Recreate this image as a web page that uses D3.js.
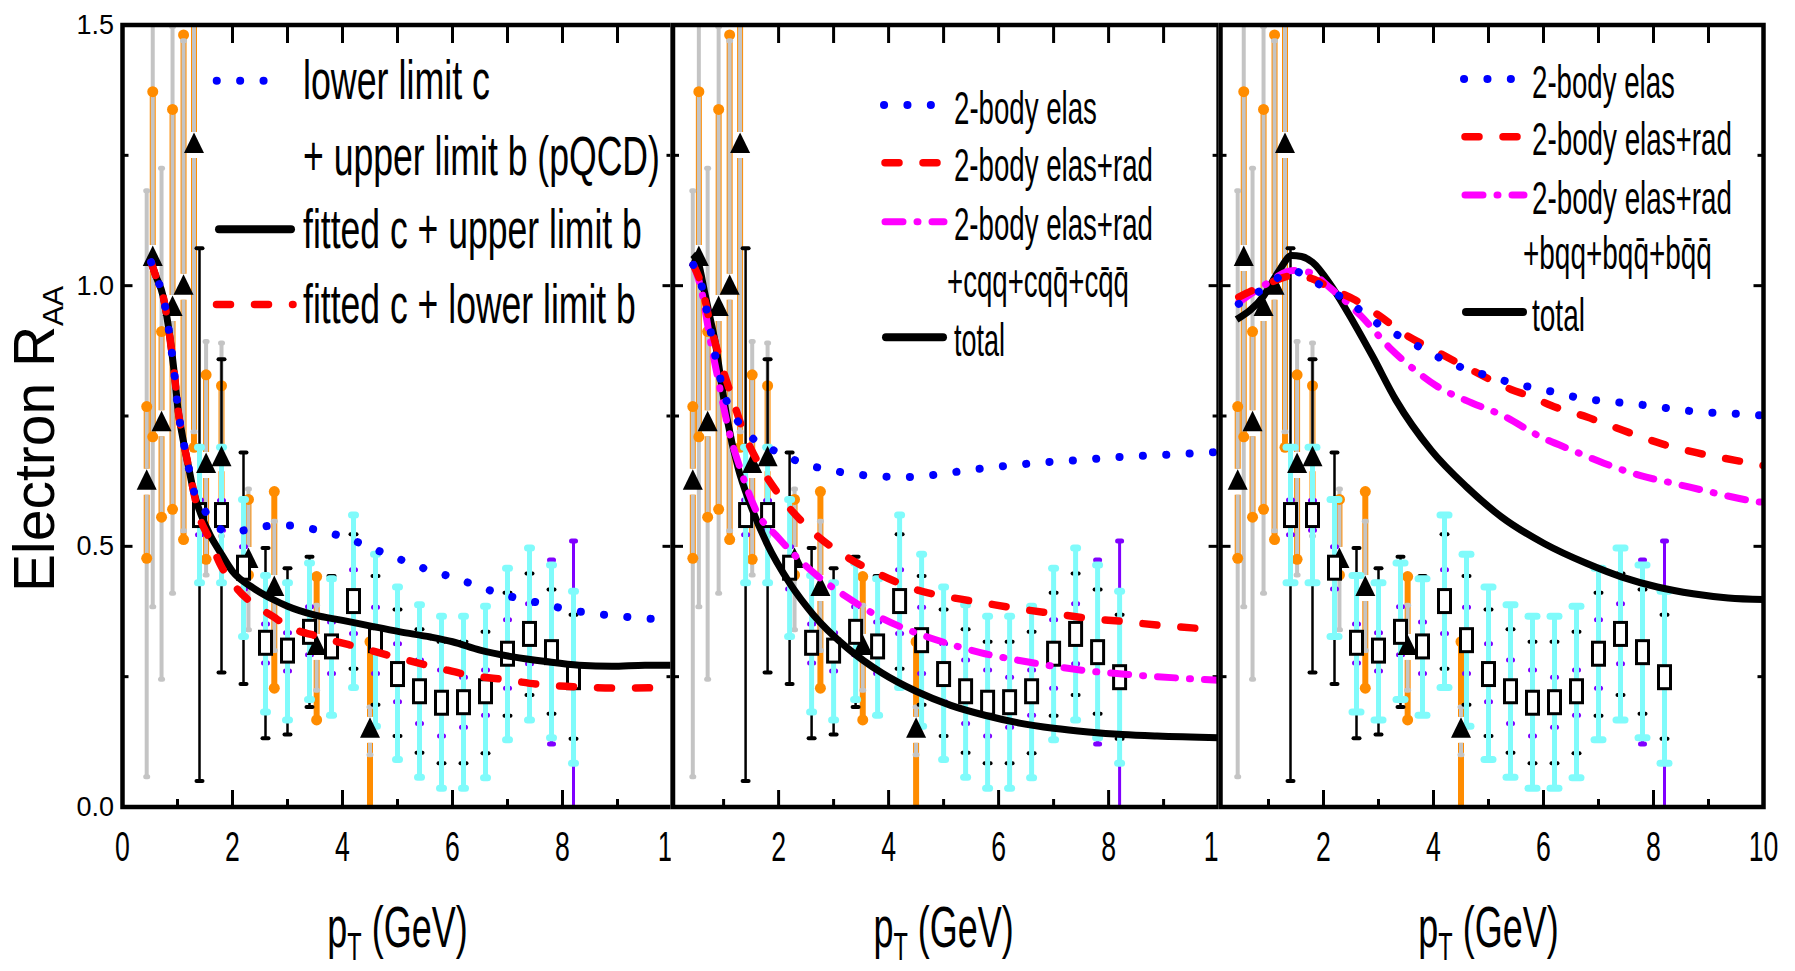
<!DOCTYPE html>
<html>
<head>
<meta charset="utf-8">
<script src="https://cdn.jsdelivr.net/npm/d3@7"></script>
<style>
  html, body { margin: 0; padding: 0; background: #fff; }
  svg { display: block; }
  text { font-family: "Liberation Sans", Arial, Helvetica, sans-serif; fill: #000; }
</style>
</head>
<body>
<script>
// ---- data ----
// low-pT data: filled triangles with grey and orange error bars
var triPt     = [0.44, 0.55, 0.71, 0.91, 1.11, 1.30, 1.52, 1.80, 2.29, 2.76, 3.53, 4.50]
var triR      = [0.624, 1.053, 0.736, 0.957, 0.998, 1.270, 0.656, 0.669, 0.474, 0.420, 0.307, 0.148]
var triGrayLo = [0.058, 0.384, 0.245, 0.410, 0.530, 0.720, 0.445, 0.520, 0.340, 0.300, 0.224, 0.100]
var triGrayHi = [1.182, 1.600, 1.225, 1.497, 1.470, 1.600, 0.893, 0.890, 0.610, 0.548, 0.387, 0.192]
var triOrLo   = [0.477, 0.710, 0.556, 0.571, 0.513, 0.690, 0.475, 0.550, 0.445, 0.228, 0.167, -0.050]
var triOrHi   = [0.768, 1.372, 0.912, 1.338, 1.481, 1.600, 0.829, 0.808, 0.590, 0.605, 0.442, 0.317]

// open squares with cyan / black / purple error bars
var sqPt      = [1.4, 1.8, 2.2, 2.6, 3.0, 3.4, 3.8, 4.2, 4.6, 5.0, 5.4, 5.8, 6.2, 6.6, 7.0, 7.4, 7.8, 8.2]
var sqR       = [0.560, 0.560, 0.459, 0.315, 0.300, 0.336, 0.308, 0.395, 0.320, 0.255, 0.222, 0.200, 0.201, 0.222, 0.294, 0.332, 0.297, 0.249]
var sqCyanLo  = [0.430, 0.430, 0.327, 0.182, 0.167, 0.206, 0.176, 0.229, 0.155, 0.091, 0.057, 0.036, 0.036, 0.056, 0.129, 0.167, 0.133, 0.084]
var sqCyanHi  = [0.690, 0.690, 0.590, 0.444, 0.430, 0.468, 0.438, 0.560, 0.485, 0.422, 0.388, 0.366, 0.366, 0.385, 0.458, 0.497, 0.464, 0.414]
var sqBlackLo = [0.050, 0.258, 0.236, 0.132, 0.139, 0.192, 0.175, 0.265, 0.196, 0.136, 0.104, 0.084, 0.084, 0.103, 0.175, 0.215, 0.179, 0.131]
var sqBlackHi = [1.072, 0.859, 0.680, 0.497, 0.458, 0.480, 0.443, 0.523, 0.443, 0.379, 0.341, 0.317, 0.317, 0.336, 0.411, 0.448, 0.417, 0.369]
var sqPurpLo  = [0.522, 0.531, 0.418, 0.276, 0.261, 0.292, 0.256, 0.333, 0.256, 0.202, 0.160, 0.136, 0.153, 0.176, 0.228, 0.275, 0.121, -0.050]
var sqPurpHi  = [0.589, 0.588, 0.499, 0.351, 0.334, 0.384, 0.355, 0.455, 0.383, 0.313, 0.282, 0.263, 0.249, 0.263, 0.359, 0.390, 0.474, 0.510]

// model curves [pT, R]
var leftBlue = [[0.52,1.045],[0.6,1.02],[0.74,0.979],[0.86,0.902],[0.955,0.819],[1.01,0.762],[1.08,0.717],[1.2,0.653],[1.3,0.605],
  [1.41,0.586],[1.6,0.55],[1.83,0.531],[2.0,0.528],[2.23,0.531],[2.65,0.539],[3.05,0.54],[3.47,0.533],[3.89,0.522],[4.3,0.507],
  [4.71,0.489],[5.12,0.472],[5.53,0.456],[5.96,0.442],[6.38,0.427],[6.78,0.412],[7.2,0.4],[7.6,0.391],[8.0,0.381],[8.42,0.373],
  [8.84,0.368],[9.24,0.364],[9.85,0.359]]
var leftRed = [[0.52,1.045],[0.6,1.02],[0.74,0.979],[0.86,0.902],[0.955,0.819],[1.01,0.762],[1.08,0.717],[1.2,0.653],[1.3,0.602],
  [1.35,0.576],[1.59,0.512],[1.77,0.467],[2.05,0.423],[2.32,0.394],[2.74,0.365],[3.0,0.347],[3.6,0.326],[4.38,0.304],[4.98,0.287],
  [5.77,0.266],[6.3,0.253],[6.97,0.244],[7.67,0.234],[8.4,0.23],[9.0,0.228],[9.8,0.229],[10,0.23]]
var leftBlack = [[0.52,1.045],[0.6,1.02],[0.74,0.979],[0.86,0.902],[0.955,0.819],[1.01,0.762],[1.08,0.717],[1.2,0.653],[1.3,0.602],
  [1.42,0.563],[1.6,0.52],[1.77,0.49],[2.0,0.452],[2.38,0.42],[2.74,0.398],[3.0,0.385],[3.5,0.368],[4.0,0.358],[4.56,0.346],
  [5.05,0.336],[5.6,0.326],[6.0,0.317],[6.5,0.301],[7.1,0.288],[7.7,0.279],[8.3,0.272],[8.9,0.27],[9.5,0.272],[10,0.272]]

var midBlue = [[0.45,1.04],[0.6,1.0],[0.75,0.92],[0.9,0.84],[1.05,0.78],[1.2,0.75],[1.4,0.72],[1.7,0.695],[2.0,0.68],[2.4,0.661],
  [3.0,0.645],[3.6,0.636],[4.3,0.633],[4.9,0.638],[5.5,0.647],[6.2,0.655],[6.8,0.661],[7.4,0.665],[8.0,0.67],[8.7,0.674],
  [9.3,0.677],[10,0.681]]
var midRed = [[0.45,1.04],[0.6,1.0],[0.75,0.93],[0.9,0.87],[1.17,0.78],[1.4,0.71],[1.58,0.67],[2.0,0.6],[2.63,0.527],[3.25,0.479],
  [3.88,0.444],[4.5,0.417],[5.13,0.402],[5.75,0.391],[6.38,0.38],[7.0,0.371],[7.63,0.362],[8.25,0.356],[8.88,0.349],[10,0.34]]
var midMagenta = [[0.45,1.04],[0.6,0.99],[0.75,0.9],[0.9,0.82],[1.1,0.72],[1.3,0.65],[1.58,0.571],[2.0,0.516],[2.63,0.45],
  [3.25,0.402],[3.88,0.362],[4.5,0.334],[5.13,0.312],[5.75,0.294],[6.38,0.281],[7.0,0.27],[7.63,0.261],[8.25,0.255],[8.88,0.25],
  [10,0.243]]
var midBlack = [[0.44,1.06],[0.55,1.04],[0.65,0.99],[0.75,0.94],[0.85,0.89],[0.95,0.82],[1.06,0.747],[1.27,0.648],[1.48,0.582],
  [1.79,0.505],[2.21,0.428],[2.63,0.369],[3.25,0.305],[3.88,0.257],[4.5,0.222],[5.13,0.195],[5.75,0.176],[6.38,0.161],[7.0,0.151],
  [7.63,0.144],[8.25,0.139],[8.88,0.136],[10,0.133]]

var rightBlue = [[0.46,0.965],[0.91,0.994],[1.45,1.029],[1.73,1.013],[2.14,0.99],[2.55,0.962],[2.96,0.929],[3.37,0.904],[3.77,0.881],
  [4.18,0.858],[4.59,0.84],[5.0,0.827],[5.41,0.814],[5.82,0.804],[6.23,0.795],[6.64,0.785],[7.05,0.779],[7.46,0.775],[7.91,0.77],
  [8.33,0.764],[8.72,0.759],[9.13,0.756],[9.55,0.754],[10,0.751]]
var rightRed = [[0.46,0.978],[0.91,1.0],[1.45,1.019],[1.8,1.013],[2.14,0.994],[2.55,0.974],[3.02,0.942],[3.43,0.91],[3.98,0.878],
  [4.66,0.84],[5.41,0.801],[5.75,0.788],[6.14,0.77],[6.79,0.748],[7.43,0.723],[8.14,0.697],[8.72,0.681],[9.49,0.665],[10,0.655]]
var rightMagenta = [[0.46,0.968],[0.91,1.0],[1.45,1.029],[1.73,1.026],[2.14,0.994],[2.68,0.942],[3.23,0.878],[3.64,0.84],[4.05,0.808],
  [4.7,0.775],[5.24,0.752],[5.95,0.71],[6.53,0.684],[7.11,0.659],[7.75,0.636],[8.4,0.62],[9.04,0.604],[9.75,0.588],[10,0.584]]
var rightBlack = [[0.42,0.935],[0.91,0.98],[1.2,1.03],[1.42,1.058],[1.6,1.056],[1.8,1.045],[2.14,1.0],[2.55,0.929],[2.89,0.865],
  [3.32,0.78],[3.96,0.684],[4.6,0.614],[5.24,0.556],[6.02,0.505],[6.79,0.467],[7.43,0.441],[8.07,0.422],[8.72,0.409],[9.36,0.401],
  [10,0.398]]

// legends
var leftLabels  = ['lower limit c', '+ upper limit b (pQCD)', 'fitted c + upper limit b', 'fitted c + lower limit b']
var midLabels   = ['2-body elas', '2-body elas+rad', '2-body elas+rad', '+cqq+cqq\u0304+cq\u0304q\u0304', 'total']
var rightLabels = ['2-body elas', '2-body elas+rad', '2-body elas+rad', '+bqq+bqq\u0304+bq\u0304q\u0304', 'total']

var xTickVals = [0, 2, 4, 6, 8, 10]
var yTickVals = [0, 0.5, 1.0, 1.5]
var yTickLabels = ['0.0', '0.5', '1.0', '1.5']

// ---- layout ----
var W = 1795, H = 971
var yTop = 25, yBot = 807
var y = d3.scaleLinear().domain([0, 1.5]).range([yBot, yTop])

var lineStyles = {
  dot:     { color: '#0000ff', width: 8,   dash: '0.1 23.3' },
  dash:    { color: '#ff0000', width: 7.5, dash: '14 24' },
  dashdot: { color: '#ff00ff', width: 7,   dash: '18 14 1 14' },
  solid:   { color: '#000000', width: 7,   dash: null }
}

var panels = [
  { x0: 122.5, left: 122.5, right: 672.5, capW: 4,
    curves: [[leftBlack, 'solid'], [leftRed, 'dash'], [leftBlue, 'dot']],
    legend: [
      { s: 'dot',   y: 80.7,  x1: 216.7, x2: 286.7, tx: 303, label: leftLabels[0], w: 187 },
      { s: null,    y: 156,   tx: 303, label: leftLabels[1], w: 357 },
      { s: 'solid', y: 229.3, x1: 219,   x2: 291,   tx: 303, label: leftLabels[2], w: 339 },
      { s: 'dash',  y: 304.5, x1: 216.5, x2: 293,   tx: 303, label: leftLabels[3], w: 333 }
    ], fs: 55 },
  { x0: 668.6, left: 673, right: 1218.6, capW: 4,
    curves: [[midBlack, 'solid'], [midMagenta, 'dashdot'], [midRed, 'dash'], [midBlue, 'dot']],
    legend: [
      { s: 'dot',     y: 105,   x1: 884, x2: 932, tx: 954, label: midLabels[0], w: 143 },
      { s: 'dash',    y: 162.7, x1: 885, x2: 938, tx: 954, label: midLabels[1], w: 199 },
      { s: 'dashdot', y: 221.7, x1: 885, x2: 944, tx: 954, label: midLabels[2], w: 199 },
      { s: null,      y: 278.7, tx: 947, label: midLabels[3], w: 182 },
      { s: 'solid',   y: 337.3, x1: 886, x2: 943, tx: 954, label: midLabels[4], w: 51 }
    ], fs: 46 },
  { x0: 1213.5, left: 1220.5, right: 1763.5, capW: 9,
    curves: [[rightBlack, 'solid'], [rightMagenta, 'dashdot'], [rightRed, 'dash'], [rightBlue, 'dot']],
    legend: [
      { s: 'dot',     y: 79,    x1: 1464, x2: 1512, tx: 1532, label: rightLabels[0], w: 143 },
      { s: 'dash',    y: 136.7, x1: 1465, x2: 1518, tx: 1532, label: rightLabels[1], w: 200 },
      { s: 'dashdot', y: 195,   x1: 1465, x2: 1524, tx: 1532, label: rightLabels[2], w: 200 },
      { s: null,      y: 250,   tx: 1523, label: rightLabels[3], w: 189 },
      { s: 'solid',   y: 312,   x1: 1466, x2: 1523, tx: 1532, label: rightLabels[4], w: 53 }
    ], fs: 46 }
]

var cCyan = '#80fbfb', cPurple = '#8000ff', cOrange = '#ff8c00', cGray = '#c4c4c4'

var svg = d3.select('body').append('svg').attr('width', W).attr('height', H)
var defs = svg.append('defs')

function vseg(sel, xx, ya, yb, color, w) {
  if (yb - ya <= 0) return
  sel.append('line').attr('x1', xx).attr('x2', xx).attr('y1', ya).attr('y2', yb)
    .attr('stroke', color).attr('stroke-width', w)
}
// error bar that stops short of the marker
function gappedBar(sel, xx, lo, hi, c, color, w) {
  var yh = y(hi), yl = y(lo), yc = y(c), gap = 13
  vseg(sel, xx, yh, Math.min(yl, yc - gap), color, w)
  vseg(sel, xx, Math.max(yh, yc + gap), yl, color, w)
}
function cap(sel, xx, v, len, color, w) {
  sel.append('line').attr('x1', xx - len / 2).attr('x2', xx + len / 2).attr('y1', y(v)).attr('y2', y(v))
    .attr('stroke', color).attr('stroke-width', w).attr('stroke-linecap', 'round')
}
// horizontally squeezed text, like the narrow face used in the figure
function squeezed(sel, txt, x, yb, size, target) {
  var t = sel.append('text').attr('font-size', size)
    .attr('transform', 'translate(' + x + ',' + yb + ')').text(txt)
  var len = t.node().getComputedTextLength()
  t.attr('transform', 'translate(' + x + ',' + yb + ') scale(' + (target / len) + ',1)')
  return t
}

panels.forEach(function(p, i) {
  var x = d3.scaleLinear().domain([0, 10]).range([p.x0, p.x0 + 550])
  var g = svg.append('g')

  // each panel sits on top of the previous one
  g.append('rect').attr('x', p.left - 2.3).attr('y', 0).attr('width', W - p.left + 2.3).attr('height', H).attr('fill', '#fff')

  defs.append('clipPath').attr('id', 'clip' + i).append('rect')
    .attr('x', p.left).attr('y', yTop).attr('width', p.right - p.left).attr('height', yBot - yTop)

  // ticks
  var tk = g.append('g').attr('stroke', '#000').attr('stroke-width', 3)
  d3.range(1, 10).forEach(function(v) {
    var len = v % 2 === 0 ? 17 : 8
    tk.append('line').attr('x1', x(v)).attr('x2', x(v)).attr('y1', yBot).attr('y2', yBot - len)
    if (v >= 2) tk.append('line').attr('x1', x(v)).attr('x2', x(v)).attr('y1', yTop).attr('y2', yTop + 18)
  })
  ;[0.25, 0.5, 0.75, 1.0, 1.25].forEach(function(v) {
    var len = (v * 2) % 1 === 0 ? 10 : 6
    tk.append('line').attr('x1', p.left).attr('x2', p.left + len).attr('y1', y(v)).attr('y2', y(v))
    tk.append('line').attr('x1', p.right).attr('x2', p.right - len).attr('y1', y(v)).attr('y2', y(v))
  })

  // x tick labels
  xTickVals.forEach(function(v) {
    if (x(v) < p.left - 1) return
    g.append('text').attr('font-size', 43).attr('text-anchor', 'middle')
      .attr('transform', 'translate(' + x(v) + ',861) scale(0.62,1)').text(v)
  })

  // x title
  var xt = g.append('text').attr('font-size', 58).attr('text-anchor', 'middle')
    .attr('transform', 'translate(' + (p.x0 + 275) + ',947) scale(0.62,1)')
  xt.append('tspan').text('p')
  xt.append('tspan').attr('font-size', 38).attr('dy', 13).text('T')
  xt.append('tspan').attr('dy', -13).text(' (GeV)')

  // data
  var dg = g.append('g').attr('clip-path', 'url(#clip' + i + ')')
  triPt.forEach(function(pt, k) { gappedBar(dg, x(pt), triOrLo[k], triOrHi[k], triR[k], cOrange, 6) })
  triPt.forEach(function(pt, k) { gappedBar(dg, x(pt), triGrayLo[k], triGrayHi[k], triR[k], cGray, 4) })
  triPt.forEach(function(pt, k) {
    dg.append('circle').attr('cx', x(pt)).attr('cy', y(triOrLo[k])).attr('r', 5.5).attr('fill', cOrange)
    dg.append('circle').attr('cx', x(pt)).attr('cy', y(triOrHi[k])).attr('r', 5.5).attr('fill', cOrange)
    cap(dg, x(pt), triGrayLo[k], 2, cGray, 5)
    cap(dg, x(pt), triGrayHi[k], 2, cGray, 5)
  })

  sqPt.forEach(function(pt, k) {
    vseg(dg, x(pt), y(sqPurpHi[k]), y(sqPurpLo[k]), cPurple, 3)
    cap(dg, x(pt), sqPurpLo[k], 4, cPurple, 5)
    cap(dg, x(pt), sqPurpHi[k], 4, cPurple, 5)
  })
  sqPt.forEach(function(pt, k) {
    vseg(dg, x(pt), y(sqBlackHi[k]), y(sqBlackLo[k]), '#000', 2.5)
    cap(dg, x(pt), sqBlackLo[k], 6, '#000', 4)
    cap(dg, x(pt), sqBlackHi[k], 6, '#000', 4)
  })
  sqPt.forEach(function(pt, k) {
    vseg(dg, x(pt), y(sqCyanHi[k]), y(sqCyanLo[k]), cCyan, 5)
    cap(dg, x(pt), sqCyanLo[k], p.capW, cCyan, 7)
    cap(dg, x(pt), sqCyanHi[k], p.capW, cCyan, 7)
  })

  triPt.forEach(function(pt, k) {
    var cx = x(pt), cy = y(triR[k])
    dg.append('path').attr('d', 'M' + cx + ',' + (cy - 12.5) + 'L' + (cx - 10) + ',' + (cy + 8) + 'L' + (cx + 10) + ',' + (cy + 8) + 'Z')
      .attr('fill', '#000')
  })
  sqPt.forEach(function(pt, k) {
    dg.append('rect').attr('x', x(pt) - 6).attr('y', y(sqR[k]) - 11.5).attr('width', 12).attr('height', 23)
      .attr('fill', '#fff').attr('stroke', '#000').attr('stroke-width', 3)
  })

  // model curves
  var line = d3.line().x(function(d) { return x(d[0]) }).y(function(d) { return y(d[1]) }).curve(d3.curveMonotoneX)
  p.curves.forEach(function(c) {
    var st = lineStyles[c[1]]
    dg.append('path').attr('d', line(c[0])).attr('fill', 'none')
      .attr('stroke', st.color).attr('stroke-width', st.width)
      .attr('stroke-dasharray', st.dash).attr('stroke-linecap', st.dash ? 'round' : 'butt')
      .attr('stroke-linejoin', 'round')
  })

  // frame
  g.append('rect').attr('x', p.left).attr('y', yTop).attr('width', p.right - p.left).attr('height', yBot - yTop)
    .attr('fill', 'none').attr('stroke', '#000').attr('stroke-width', 4.5)

  // legend
  p.legend.forEach(function(r) {
    if (r.s) {
      var st = lineStyles[r.s]
      g.append('line').attr('x1', r.x1).attr('x2', r.x2).attr('y1', r.y).attr('y2', r.y)
        .attr('stroke', st.color).attr('stroke-width', r.s === 'solid' ? 8 : st.width)
        .attr('stroke-dasharray', st.dash).attr('stroke-linecap', 'round')
    }
    squeezed(g, r.label, r.tx, r.y + 18.5, p.fs, r.w)
  })
})

// y axis labels (left panel only)
yTickVals.forEach(function(v, k) {
  svg.append('text').attr('x', 114).attr('y', y(v)).attr('font-size', 27).attr('text-anchor', 'end')
    .attr('dominant-baseline', 'central').attr('fill', '#111').text(yTickLabels[k])
})
var yl = svg.append('text').attr('transform', 'translate(54,592) rotate(-90)').attr('font-size', 57)
yl.append('tspan').text('Electron R')
yl.append('tspan').attr('font-size', 30).attr('dy', 9).text('AA')
</script>
</body>
</html>
